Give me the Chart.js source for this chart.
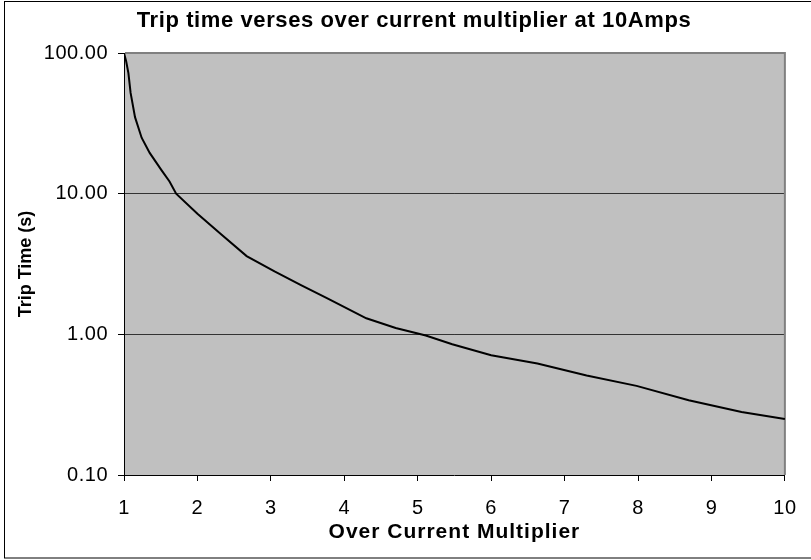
<!DOCTYPE html>
<html><head><meta charset="utf-8">
<script src="https://cdn.jsdelivr.net/npm/chart.js@4/dist/chart.umd.min.js"></script>
<style>html,body{margin:0;padding:0;background:#fff}canvas{display:block}</style>
</head><body>
<canvas id="c" width="811" height="560"></canvas>
<script>
const chartTitle = 'Trip time verses over current multiplier at 10Amps';
const xAxisTitle = 'Over Current Multiplier';
const yAxisTitle = 'Trip Time (s)';
const multiplier = [1, 1.03, 1.06, 1.09, 1.15, 1.24, 1.35, 1.51, 1.62, 1.71, 2.0, 2.33, 2.67, 3.05, 3.41, 3.77, 4.3, 4.7, 5.11, 5.47, 6.0, 6.63, 7.3, 7.98, 8.69, 9.41, 10];
const tripTime = [100, 87, 72, 52, 35, 25, 19.5, 14.7, 12.2, 10, 7.2, 5.1, 3.6, 2.8, 2.24, 1.8, 1.3, 1.11, 0.98, 0.85, 0.71, 0.62, 0.51, 0.43, 0.34, 0.28, 0.25];
const xTicks = [1, 2, 3, 4, 5, 6, 7, 8, 9, 10];
const yTicks = [0.1, 1, 10, 100];
const F = "'Liberation Sans', Arial, sans-serif";

const plotFrame = {
  id: 'plotFrame',
  beforeDraw(chart) {
    const ctx = chart.ctx, a = chart.chartArea;
    if (!ctx._lsPatched) {
      const f = ctx.fillText;
      ctx.fillText = function (t, x, y, m) {
        const prev = this.letterSpacing;
        if (t === yAxisTitle) this.letterSpacing = '0px';
        else if (t === chartTitle) this.letterSpacing = '0.6px';
        else if (/bold/.test(this.font)) this.letterSpacing = '1px';
        else this.letterSpacing = '0.5px';
        if (m === undefined) f.call(this, t, x, y); else f.call(this, t, x, y, m);
        this.letterSpacing = prev;
      };
      ctx._lsPatched = true;
    }
    ctx.save();
    ctx.fillStyle = '#c0c0c0';
    ctx.fillRect(a.left, a.top, a.right - a.left, a.bottom - a.top);
    ctx.strokeStyle = '#000';
    ctx.lineWidth = 1;
    ctx.strokeRect(4.5, 1.5, 900, 556.5);
    ctx.restore();
  },
  beforeDatasetsDraw(chart) {
    const ctx = chart.ctx, a = chart.chartArea;
    ctx.save();
    ctx.strokeStyle = '#808080';
    ctx.lineWidth = 2;
    ctx.beginPath();
    ctx.moveTo(a.left + 1, a.top);
    ctx.lineTo(a.right, a.top);
    ctx.lineTo(a.right, a.bottom);
    ctx.stroke();
    ctx.restore();
  }
};

new Chart(document.getElementById('c'), {
  type: 'scatter',
  data: {
    datasets: [{
      data: multiplier.map((x, i) => ({ x: x, y: tripTime[i] })),
      showLine: true,
      borderColor: '#000',
      borderWidth: 2,
      pointRadius: 0,
      tension: 0,
      fill: false
    }]
  },
  options: {
    responsive: false,
    animation: false,
    devicePixelRatio: 1,
    layout: { padding: { left: 34, right: 17, top: 0, bottom: 0 } },
    plugins: {
      legend: { display: false },
      tooltip: { enabled: false },
      title: {
        display: true, text: chartTitle, color: '#000',
        font: { family: F, size: 22, weight: 'bold' },
        padding: { top: 8, bottom: 18.6 }
      }
    },
    scales: {
      x: {
        type: 'linear', min: 1, max: 10,
        afterBuildTicks: s => { s.ticks = xTicks.map(v => ({ value: v })); },
        ticks: { color: '#000', font: { family: F, size: 20 }, padding: 15, maxRotation: 0, callback: v => String(v) },
        grid: { drawOnChartArea: false, drawTicks: true, tickLength: 6, tickColor: '#000', color: '#000' },
        border: { color: '#000', width: 1 },
        title: { display: true, text: xAxisTitle, color: '#000', font: { family: F, size: 21, weight: 'bold' }, padding: { top: 0, bottom: 15 } },
        afterFit: s => { s.height = 85; }
      },
      y: {
        type: 'logarithmic', min: 0.1, max: 100,
        afterBuildTicks: s => { s.ticks = yTicks.map(v => ({ value: v })); },
        ticks: { color: '#000', font: { family: F, size: 20 }, padding: 10, callback: v => Number(v).toFixed(2) },
        grid: {
          color: c => (c.tick && (c.tick.value === 1 || c.tick.value === 10)) ? '#333' : 'rgba(0,0,0,0)',
          tickColor: '#000', tickLength: 6, lineWidth: 1
        },
        border: { color: '#000', width: 1 },
        title: { display: true, text: yAxisTitle, color: '#000', font: { family: F, size: 18, weight: 'bold' }, padding: { top: -19, bottom: 0 } },
        afterFit: s => { s.width = 90; }
      }
    }
  },
  plugins: [plotFrame]
});
</script>
</body></html>
